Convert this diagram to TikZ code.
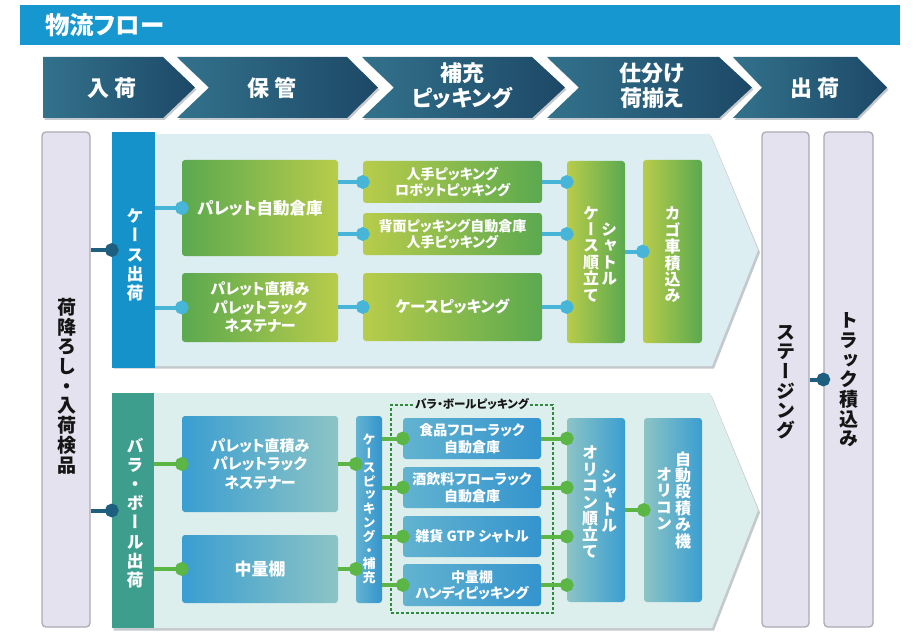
\documentclass[tikz,border=0pt]{standalone}
\usepackage{fontspec}
\setmainfont{Noto Sans CJK JP}[RawFeature=+palt]
\newfontfamily\vfont{Noto Sans CJK JP}[RawFeature=+vert]
\definecolor{cTitle}{HTML}{1797CF}
\definecolor{cHeadL}{HTML}{33728C}
\definecolor{cHeadR}{HTML}{1C4866}
\definecolor{cShadow}{HTML}{C4C9CE}
\definecolor{cPanelU}{HTML}{DCEEF1}
\definecolor{cPanelL}{HTML}{DDEFEC}
\definecolor{cLav}{HTML}{E4E2EE}
\definecolor{cLavB}{HTML}{ABABB5}
\definecolor{cKs}{HTML}{1592C9}
\definecolor{cBb}{HTML}{3E9E8E}
\definecolor{cGreen}{HTML}{5BA94F}
\definecolor{cYel}{HTML}{B8CC4B}
\definecolor{cBlue}{HTML}{3A9ED1}
\definecolor{cTeal}{HTML}{8CC4C5}
\definecolor{cBlue2}{HTML}{3494CE}
\definecolor{cLtBlue}{HTML}{62B3D0}
\definecolor{cCu}{HTML}{47B5D8}
\definecolor{cCl}{HTML}{5CB646}
\definecolor{cCd}{HTML}{1E5E7F}
\definecolor{cDash}{HTML}{2F8A3C}
\definecolor{cDark}{HTML}{151515}
\newcommand\lnk[3]{\draw[#1] #2 -- #3; \fill[#1] #3 circle (4.8);}
\begin{document}
\begin{tikzpicture}[x=1pt,y=-1pt,
  sz/.style 2 args={minimum width=#1, minimum height=#2},
  box/.style={rounded corners=3pt, inner sep=0pt, text=white, align=center,
    font=\bfseries\fontsize{14.5}{17.5}\selectfont},
  gL/.style={box, left color=cGreen, right color=cYel},
  gR/.style={box, left color=cYel, right color=cGreen},
  bL/.style={box, left color=cBlue, right color=cTeal},
  bR/.style={box, left color=cTeal, right color=cBlue},
  bB/.style={box, left color=cLtBlue, right color=cBlue2},
  lav/.style={fill=cLav, draw=cLavB, line width=1.3pt, rounded corners=4pt, inner sep=0pt},
  vtx/.style={font=\vfont\bfseries\fontsize{19}{19.7}\selectfont, align=center, inner sep=0pt, text=cDark},
  vtw/.style={font=\vfont\bfseries\fontsize{16}{16.4}\selectfont, align=center, inner sep=0pt, text=white},
  htx/.style={font=\bfseries\fontsize{22}{25}\selectfont, align=center, inner sep=0pt, text=white},
  cu/.style={draw=cCu, fill=cCu, line width=4pt},
  cl/.style={draw=cCl, fill=cCl, line width=4pt},
  cd/.style={draw=cCd, fill=cCd, line width=4pt}
]
\useasboundingbox (0,0) rectangle (915,639);
\fill[white] (0,0) rectangle (915,639);

% title
\node[fill=cTitle, sz={880}{40}, inner sep=0pt, anchor=north west] (tb) at (20,5) {};
\node[anchor=west, text=white, inner sep=0pt, font=\bfseries\fontsize{24.5}{26}\selectfont] (tt) at (45,25) {物流フロー};

% header chevrons
\begin{scope}[shift={(1.5,2)}]
\fill[cShadow] (43,57)--(163,57)--(195,87.5)--(163,118)--(43,118)--cycle;
\fill[cShadow] (177,57)--(347,57)--(378,87.5)--(347,118)--(177,118)--(209,87.5)--cycle;
\fill[cShadow] (362,57)--(532,57)--(565,87.5)--(532,118)--(362,118)--(394,87.5)--cycle;
\fill[cShadow] (547,57)--(719,57)--(752,87.5)--(719,118)--(547,118)--(579,87.5)--cycle;
\fill[cShadow] (733,57)--(857,57)--(887,87.5)--(857,118)--(733,118)--(762,87.5)--cycle;
\end{scope}
\shade[left color=cHeadL, right color=cHeadR] (43,57)--(163,57)--(195,87.5)--(163,118)--(43,118)--cycle;
\shade[left color=cHeadL, right color=cHeadR] (177,57)--(347,57)--(378,87.5)--(347,118)--(177,118)--(209,87.5)--cycle;
\shade[left color=cHeadL, right color=cHeadR] (362,57)--(532,57)--(565,87.5)--(532,118)--(362,118)--(394,87.5)--cycle;
\shade[left color=cHeadL, right color=cHeadR] (547,57)--(719,57)--(752,87.5)--(719,118)--(547,118)--(579,87.5)--cycle;
\shade[left color=cHeadL, right color=cHeadR] (733,57)--(857,57)--(887,87.5)--(857,118)--(733,118)--(762,87.5)--cycle;
\node[htx] (h1) at (112,88) {入\hspace{6pt}荷};
\node[htx] (h2) at (272,88) {保\hspace{6pt}管};
\node[htx] (h3) at (462,86) {補充\\ピッキング};
\node[htx] (h4) at (652,86) {仕分け\\荷揃え};
\node[htx] (h5) at (815,88) {出\hspace{6pt}荷};

% panels
\fill[cShadow] (113.5,136.5)--(711.5,136.5)--(760,252.5)--(714,368.5)--(113.5,368.5)--cycle;
\fill[cPanelU] (112,134)--(710,134)--(758,250)--(712,366)--(112,366)--cycle;
\fill[cShadow] (113.5,395.5)--(711.5,395.5)--(760,512.5)--(714,630.5)--(113.5,630.5)--cycle;
\fill[cPanelL] (112,393)--(710,393)--(758,510)--(712,628)--(112,628)--cycle;

% side bars
\node[lav, sz={48}{495}] (lb) at (66,379.5) {};
\node[vtx] (lbt) at (67,386) {荷\\降\\ろ\\し\\・\\入\\荷\\検\\品};
\node[lav, sz={47}{495}] (st) at (785.5,379.5) {};
\node[vtx] (stt) at (785.5,382) {ス\\テ\\ー\\ジ\\ン\\グ};
\node[lav, sz={49}{495}] (tr) at (848.5,379.5) {};
\node[vtx] (trt) at (848.5,380) {ト\\ラ\\ッ\\ク\\積\\込\\み};

% upper section
\node[fill=cKs, inner sep=0pt, sz={43}{236}] (ks) at (133.5,250) {};
\node[vtw, font=\vfont\bfseries\fontsize{17}{19.2}\selectfont] (kst) at (135,255) {ケ\\ー\\ス\\出\\荷};
\node[gL, sz={156}{96}, font=\bfseries\fontsize{16.5}{19}\selectfont] (pa) at (260,208) {パレット自動倉庫};
\node[gL, sz={156}{69}, font=\bfseries\fontsize{15}{18.5}\selectfont] (pc) at (260,307.5) {パレット直積み\\パレットラック\\ネステナー};
\node[gR, sz={179}{42}, font=\bfseries\fontsize{14}{16.5}\selectfont] (hp) at (452.5,182) {人手ピッキング\\ロボットピッキング};
\node[gR, sz={179}{42}, font=\bfseries\fontsize{14}{16.5}\selectfont] (hm) at (452.5,234) {背面ピッキング自動倉庫\\人手ピッキング};
\node[gR, sz={179}{68}, font=\bfseries\fontsize{15.5}{18}\selectfont] (cp) at (452.5,307) {ケースピッキング};
\node[gR, sz={58}{182}] (sh1) at (596,252) {};
\node[vtw] (sh1a) at (609,254) {シ\\ャ\\ト\\ル};
\node[vtw] (sh1b) at (591,254) {ケ\\ー\\ス\\順\\立\\て};
\node[gR, sz={59}{183}] (kg) at (672.5,251.5) {};
\node[vtw] (kgt) at (672.5,255) {カ\\ゴ\\車\\積\\込\\み};

% lower section
\node[fill=cBb, inner sep=0pt, sz={42}{235}] (bb) at (133,510.5) {};
\node[vtw, font=\vfont\bfseries\fontsize{17}{19.2}\selectfont] (bbt) at (135,513) {バ\\ラ\\・\\ボ\\ー\\ル\\出\\荷};
\node[bL, sz={156}{96}, font=\bfseries\fontsize{15}{18.5}\selectfont] (pc2) at (260,464) {パレット直積み\\パレットラック\\ネステナー};
\node[bL, sz={156}{68}, font=\bfseries\fontsize{17}{19}\selectfont] (cm) at (260,569) {中量棚};
\node[bB, sz={26}{187}] (cph) at (369,509.5) {};
\node[vtw, font=\vfont\bfseries\fontsize{13}{13.8}\selectfont] (cpht) at (369,509) {ケ\\ー\\ス\\ピ\\ッ\\キ\\ン\\グ\\・\\補\\充};
\node[draw=cDash, dashed, dash pattern=on 3pt off 2pt, line width=1.2pt, inner sep=0pt, sz={162}{208}] (grp) at (472,509) {};
\node[fill=cPanelL, inner sep=1.5pt, text=cDark, font=\bfseries\fontsize{11.5}{13}\selectfont] (grpt) at (grp.north) {バラ・ボールピッキング};
\node[bB, sz={138}{41}, font=\bfseries\fontsize{14}{16.5}\selectfont] (f1) at (472,438.5) {食品フローラック\\自動倉庫};
\node[bB, sz={138}{41}, font=\bfseries\fontsize{14}{16.5}\selectfont] (f2) at (472,487.5) {酒飲料フローラック\\自動倉庫};
\node[bB, sz={138}{41}, font=\bfseries\fontsize{14}{16.5}\selectfont] (f3) at (472,536.5) {雑貨 GTP シャトル};
\node[bB, sz={138}{42}, font=\bfseries\fontsize{14}{16.5}\selectfont] (f4) at (472,585) {中量棚\\ハンディピッキング};
\node[bR, sz={58}{184}] (sh2) at (596,510) {};
\node[vtw] (sh2a) at (609,501) {シ\\ャ\\ト\\ル};
\node[vtw] (sh2b) at (590,502) {オ\\リ\\コ\\ン\\順\\立\\て};
\node[bR, sz={58}{184}] (ad) at (673,510) {};
\node[vtw] (ada) at (683,500) {自\\動\\段\\積\\み\\機};
\node[vtw] (adb) at (664,499) {オ\\リ\\コ\\ン};

% connectors
\lnk{cd}{(lb.east |- ks.west)}{(ks.west)}
\lnk{cd}{(lb.east |- bb.west)}{(bb.west)}
\lnk{cd}{(st.east |- tr.west)}{(tr.west)}

\lnk{cu}{(ks.east |- pa.west)}{(pa.west)}
\lnk{cu}{(ks.east |- pc.west)}{(pc.west)}
\lnk{cu}{(pa.east |- hp.west)}{(hp.west)}
\lnk{cu}{(pa.east |- hm.west)}{(hm.west)}
\lnk{cu}{(pc.east |- cp.west)}{(cp.west)}
\lnk{cu}{(hp.east)}{(hp.east -| sh1.west)}
\lnk{cu}{(hm.east)}{(hm.east -| sh1.west)}
\lnk{cu}{(cp.east)}{(cp.east -| sh1.west)}
\lnk{cu}{(sh1.east |- kg.west)}{(kg.west)}

\lnk{cl}{(bb.east |- pc2.west)}{(pc2.west)}
\lnk{cl}{(bb.east |- cm.west)}{(cm.west)}
\lnk{cl}{(pc2.east)}{(pc2.east -| cph.west)}
\lnk{cl}{(cm.east)}{(cm.east -| cph.west)}
\lnk{cl}{(cph.east |- f1.west)}{(f1.west)}
\lnk{cl}{(cph.east |- f2.west)}{(f2.west)}
\lnk{cl}{(cph.east |- f3.west)}{(f3.west)}
\lnk{cl}{(cph.east |- f4.west)}{(f4.west)}
\lnk{cl}{(f1.east)}{(f1.east -| sh2.west)}
\lnk{cl}{(f2.east)}{(f2.east -| sh2.west)}
\lnk{cl}{(f3.east)}{(f3.east -| sh2.west)}
\lnk{cl}{(f4.east)}{(f4.east -| sh2.west)}
\lnk{cl}{(sh2.east |- ad.west)}{(ad.west)}
\end{tikzpicture}
\end{document}
